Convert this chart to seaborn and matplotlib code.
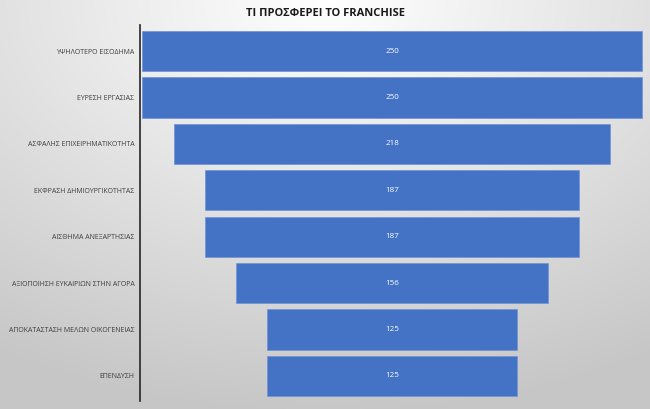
import numpy as np
import pandas as pd
import matplotlib
matplotlib.use("Agg")
import matplotlib.pyplot as plt
import seaborn as sns

categories = ["ΥΨΗΛΟΤΕΡΟ ΕΙΣΟΔΗΜΑ", "ΕΥΡΕΣΗ ΕΡΓΑΣΙΑΣ", "ΑΣΦΑΛΗΣ ΕΠΙΧΕΙΡΗΜΑΤΙΚΟΤΗΤΑ",
              "ΕΚΦΡΑΣΗ ΔΗΜΙΟΥΡΓΙΚΟΤΗΤΑΣ", "ΑΙΣΘΗΜΑ ΑΝΕΞΑΡΤΗΣΙΑΣ",
              "ΑΞΙΟΠΟΙΗΣΗ ΕΥΚΑΙΡΙΩΝ ΣΤΗΝ ΑΓΟΡΑ", "ΑΠΟΚΑΤΑΣΤΑΣΗ ΜΕΛΩΝ ΟΙΚΟΓΕΝΕΙΑΣ", "ΕΠΕΝΔΥΣΗ"]
values = [250, 250, 218, 187, 187, 156, 125, 125]
title = "ΤΙ ΠΡΟΣΦΕΡΕΙ ΤΟ FRANCHISE"

df = pd.DataFrame({"category": categories, "value": values})

sns.set_theme(style="white")
plt.rcParams['font.family'] = ['Open Sans', 'DejaVu Sans']

fig = plt.figure(figsize=(6.5, 4.09), dpi=100)

# background radial gradient
bg = fig.add_axes([0, 0, 1, 1], zorder=-10)
yy, xx = np.mgrid[0:409, 0:650]
d = np.sqrt(((xx - 325) / 650.0) ** 2 + ((yy - 0) / 409.0) ** 2 * 0.9)
d = np.clip(d / 0.95, 0, 1)
top = np.array([1.0, 1.0, 1.0])
edge = np.array([0.78, 0.78, 0.78])
img = top[None, None, :] * (1 - d[..., None]) + edge[None, None, :] * d[..., None]
bg.imshow(img, aspect="auto", extent=[0, 1, 0, 1], origin="upper")
bg.axis("off")

ax = fig.add_axes([140 / 650, 1 - 401.5 / 409, 505 / 650, (401.5 - 25.5) / 409])
ax.patch.set_alpha(0)
sns.barplot(data=df, y="category", x="value", orient="h", color="#4472C4",
            saturation=1, width=0.87, ax=ax, edgecolor="#6f93d6", linewidth=0.5)

vmax = max(values)
for patch, v in zip(ax.patches, values):
    patch.set_x((vmax - v) / 2)
    cy = patch.get_y() + patch.get_height() / 2
    ax.text(vmax / 2, cy, str(v), ha="center", va="center", color="white", fontsize=5.8)

ax.set_xlim(-1, 251.5)
ax.set_ylim(7.55, -0.55)
ax.set_xlabel("")
ax.set_ylabel("")
ax.set_xticks([])
ax.tick_params(axis="y", length=0, pad=4, labelsize=5.0, labelcolor="#404040")
for s in ["top", "right", "bottom"]:
    ax.spines[s].set_visible(False)
ax.spines["left"].set_color("#262626")
ax.spines["left"].set_linewidth(1.2)

fig.text(0.5, 1 - 13 / 409, title, ha="center", va="center", fontsize=8,
         fontweight="bold", color="#1a1a1a")

fig.savefig("out.png", dpi=100)
